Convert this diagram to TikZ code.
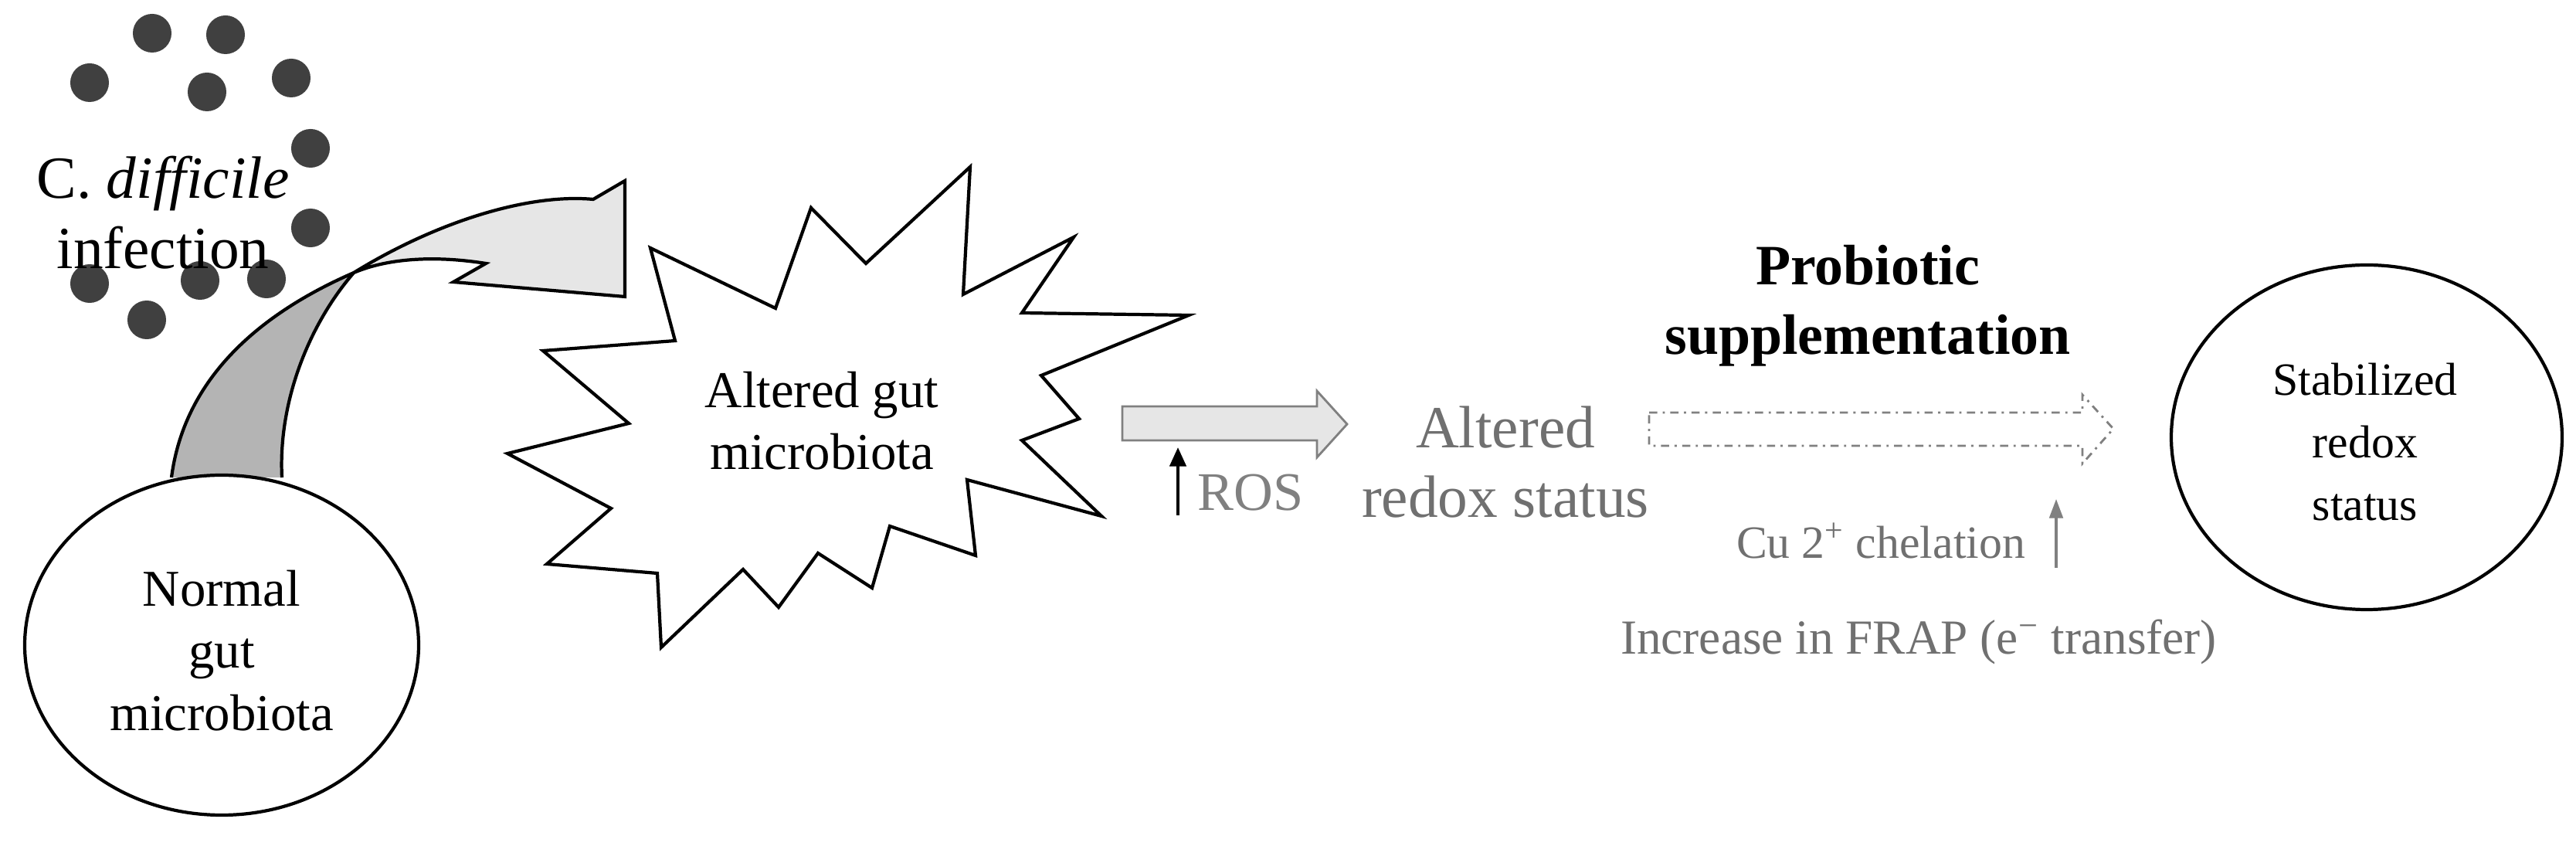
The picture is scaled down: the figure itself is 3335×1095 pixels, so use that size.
\documentclass[tikz,border=0pt]{standalone}
\usepackage{fontspec}
\setmainfont{Liberation Serif}
\usetikzlibrary{arrows.meta}
\definecolor{txtgray}{HTML}{707070}
\definecolor{lightfill}{HTML}{E6E6E6}
\definecolor{darkfill}{HTML}{B4B4B4}
\definecolor{dotcol}{HTML}{404040}
\tikzset{
  outl/.style={draw=black,line width=1.2pt,line join=miter},
  bug/.style={circle,fill=dotcol,inner sep=0pt,minimum size=0.5cm},
  lbl/.style={align=center,inner sep=0pt},
  fsA/.style={font=\fontsize{19}{22.8}\selectfont},
  fsB/.style={font=\fontsize{17}{23}\selectfont},
  fsC/.style={font=\fontsize{22}{25.8}\selectfont},
}
\begin{document}
\begin{tikzpicture}[x=0.01cm,y=-0.01cm]
\useasboundingbox[fill=white] (0,0) rectangle (3335,1095);
% bacteria dots
\foreach \p/\n in {{(197,43)}/d1,{(292,45)}/d2,{(116,107)}/d3,{(268,119)}/d4,{(377,101)}/d5,{(402,192)}/d6,{(402,295)}/d7,{(116,367)}/d8,{(259,363)}/d9,{(345,361)}/d10,{(190,414)}/d11}
  \node[bug] (\n) at \p {};
\node[lbl,fsC] (cdiff) at (211,275) {C. \textit{difficile}\\infection};
% curved arrow
\fill[darkfill] (222,618) .. controls (240,480) and (350,400) .. (458,353) .. controls (400,420) and (360,520) .. (365,618) -- cycle;
\fill[lightfill] (458,353) .. controls (560,290) and (680,250) .. (768,258) -- (809,234) -- (809,384) -- (587,365) -- (629,341) .. controls (560,330) and (500,335) .. (458,353) -- cycle;
\draw[outl] (222,618) .. controls (240,480) and (350,400) .. (458,353) .. controls (560,290) and (680,250) .. (768,258) -- (809,234) -- (809,384) -- (587,365) -- (629,341) .. controls (560,330) and (500,335) .. (458,353) .. controls (400,420) and (360,520) .. (365,618);
% normal circle
\draw[outl,fill=white] (287,835) ellipse [x radius=255, y radius=220];
\node[lbl,fsA] (normal) at (287,842) {Normal\\gut\\microbiota};
% starburst
\draw[outl,fill=white] (842,321) -- (1004,399) -- (1050,269) -- (1121,341) -- (1256,216) -- (1247,381) -- (1390,307) -- (1323,405) -- (1539,408) -- (1348,486) -- (1397,542) -- (1323,570) -- (1426,668) -- (1252,621) -- (1263,719) -- (1152,681) -- (1129,761) -- (1059,716) -- (1008,786) -- (962,737) -- (856,838) -- (851,742) -- (708,730) -- (791,658) -- (657,587) -- (814,548) -- (703,454) -- (874,441) -- cycle;
\node[lbl,fsA] (altgut) at (1064,545) {Altered gut\\microbiota};
% ROS block arrow
\draw[draw=gray,line width=0.8pt,fill=lightfill] (1453,526) -- (1705,526) -- (1705,506) -- (1744,549) -- (1705,592) -- (1705,570) -- (1453,570) -- cycle;
\coordinate (rosA) at (1525,667);
\coordinate (rosB) at (1525,579);
\draw[-{Triangle[length=7pt,width=6pt]},line width=1.2pt] (rosA) -- (rosB);
\node[anchor=base west,inner sep=0pt,text=gray,font=\fontsize{20}{24}\selectfont] (ros) at (1550,661) {ROS};
\node[lbl,fsC,text=txtgray] (altredox) at (1949,598) {Altered\\redox status};
% Probiotic
\node[lbl,font=\bfseries\fontsize{21}{25.5}\selectfont] (probio) at (2418,396) {Probiotic\\supplementation};
% dashed block arrow
\draw[draw=gray,line width=0.8pt,dash dot,fill=white] (2135,534) -- (2696,534) -- (2696,511) -- (2736,555) -- (2696,600) -- (2696,577) -- (2135,577) -- cycle;
% stabilized
\draw[outl,fill=white] (3064,566) ellipse [x radius=253, y radius=223];
\node[lbl,fsB] (stab) at (3062,572) {Stabilized\\redox\\status};
% Cu chelation
\node[anchor=base,inner sep=0pt,text=txtgray,font=\fontsize{17}{20}\selectfont] (cu) at (2435,723) {Cu 2\textsuperscript{+} chelation};
\coordinate (cuA) at (2662,735);
\coordinate (cuB) at (2662,646);
\draw[-{Triangle[length=7pt,width=5pt]},line width=0.9pt,draw=gray,fill=gray] (cuA) -- (cuB);
\node[anchor=base,inner sep=0pt,text=txtgray,font=\fontsize{18}{21}\selectfont] (frap) at (2484,847) {Increase in FRAP (e\textsuperscript{\textminus} transfer)};
\end{tikzpicture}
\end{document}
